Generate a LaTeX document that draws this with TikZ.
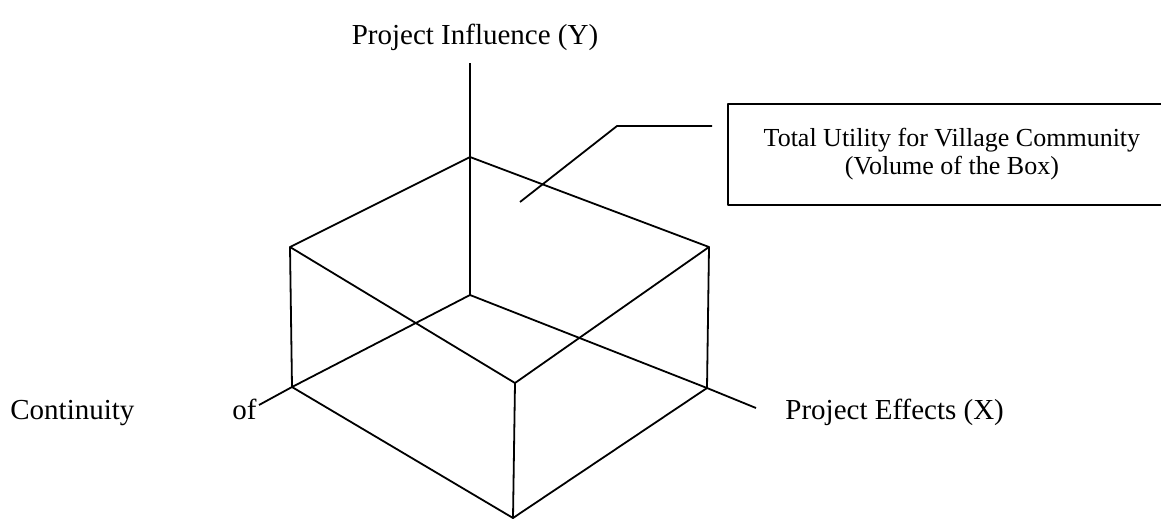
\documentclass[tikz,border=0pt]{standalone}
\usepackage{fontspec}
\setmainfont{Liberation Serif}
\newcommand\lineW{0.9pt}
\newcommand\labelSize{\fontsize{14.5}{17}\selectfont}
\newcommand\noteSize{\fontsize{13}{14}\selectfont}

\begin{document}
\begin{tikzpicture}[x=0.5pt, y=-0.5pt, line join=round,
        edge/.style={draw, line width=\lineW},
        axislbl/.style={inner sep=0pt, font=\labelSize}]
    \useasboundingbox (0,0) rectangle (1161,521);

    % top face of the box
    \coordinate (tBack) at (470,157);
    \coordinate (tLeft) at (290,247);
    \coordinate (tRight) at (709,247);
    \coordinate (tFront) at (515,383);
    % bottom face of the box
    \coordinate (origin) at (470,295);
    \coordinate (bLeft) at (292,387);
    \coordinate (bRight) at (707,388);
    \coordinate (bFront) at (513,518);
    % free ends of the axes
    \coordinate (yEnd) at (470,63);
    \coordinate (xEnd) at (756,408);
    \coordinate (zEnd) at (259,405);

    \draw[edge] (tLeft) -- (tBack) -- (tRight) -- (tFront) -- cycle;
    \draw[edge] (tLeft) -- (bLeft) -- (bFront) -- (bRight) -- (tRight);
    \draw[edge] (tFront) -- (bFront);

    \draw[edge] (yEnd) -- (origin);
    \draw[edge] (origin) -- (bLeft) -- (zEnd);
    \draw[edge] (origin) -- (bRight) -- (xEnd);

    \node[axislbl, anchor=base] (yLbl) at (475,44) {Project Influence (Y)};
    \node[axislbl, anchor=base west] (zLbl) at (10,419) {Continuity};
    \node[axislbl, anchor=base west] (ofLbl) at (232,419) {of};
    \node[axislbl, anchor=base west] (xLbl) at (785,419) {Project Effects (X)};

    \node[draw, line width=\lineW, anchor=north west, minimum width=224pt,
        minimum height=50.5pt, inner sep=0pt, align=center, font=\noteSize]
        (note) at (727,103) {Total Utility for Village Community\\(Volume of the Box)};

    \coordinate (leadIn) at (520,202);
    \coordinate (leadBend) at (617,126);
    \coordinate (leadEnd) at (712,126);
    \draw[edge] (leadIn) -- (leadBend) -- (leadEnd);
\end{tikzpicture}
\end{document}
